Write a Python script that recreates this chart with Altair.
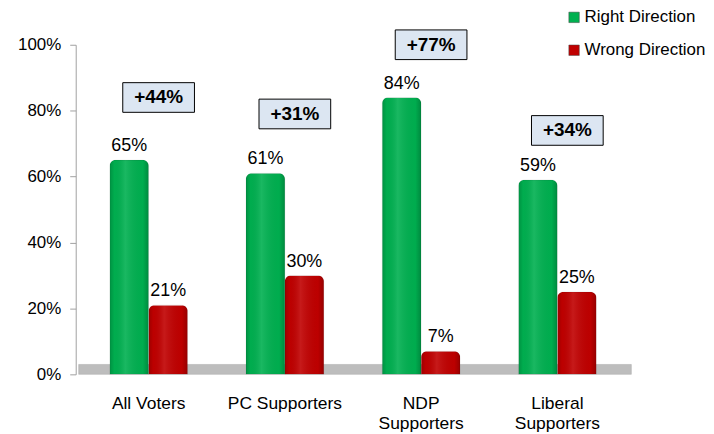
import altair as alt
import pandas as pd

categories = ["All Voters", "PC Supporters", "NDP Supporters", "Liberal Supporters"]
axis_lines = [["All Voters"], ["PC Supporters"], ["NDP", "Supporters"], ["Liberal", "Supporters"]]
series = ["Right Direction", "Wrong Direction"]
right_direction = [65, 61, 84, 59]
wrong_direction = [21, 30, 7, 25]
gap_labels = ["+44%", "+31%", "+77%", "+34%"]
gap_box_center = [84, 79, 100, 74]
colors = ["#00B050", "#C00000"]

rows = []
for c, r, w in zip(categories, right_direction, wrong_direction):
    rows.append({"category": c, "series": series[0], "value": r})
    rows.append({"category": c, "series": series[1], "value": w})
bars_df = pd.DataFrame(rows)
bars_df["label"] = bars_df["value"].astype(str) + "%"

gap_df = pd.DataFrame({
    "category": categories,
    "gap": gap_labels,
    "center": gap_box_center,
})
gap_df["lo"] = gap_df["center"] - 4.5
gap_df["hi"] = gap_df["center"] + 4.5

floor_df = pd.DataFrame({"lo": [0], "hi": [3]})

W, H = 546, 331

parts = []
for c, lines in zip(categories, axis_lines):
    arr = "[" + ",".join("'" + l + "'" for l in lines) + "]"
    parts.append(f"datum.label == '{c}' ? {arr} : ")
label_expr = "".join(parts) + "datum.label"

FONT = "Liberation Sans"
xscale = alt.Scale(domain=categories, range=[11, 546], paddingInner=0.428, paddingOuter=0.169)
yscale = alt.Scale(domain=[0, 100], nice=False)

x_enc = alt.X("category:N", scale=xscale, sort=categories,
              axis=alt.Axis(title=None, labelAngle=0, labelExpr=label_expr, domain=False,
                            ticks=False, labelFontSize=17.5, labelColor="#000000",
                            labelPadding=20, labelLineHeight=20, labelFont=FONT))

floor = alt.Chart(floor_df).mark_rect(color="#BDBDBD", stroke="#A8A8A8", strokeWidth=0.5).encode(
    x=alt.value(3), x2=alt.value(W + 12),
    y=alt.Y("lo:Q", scale=yscale,
            axis=alt.Axis(title=None, values=[0, 20, 40, 60, 80, 100],
                          labelExpr="datum.value + '%'", grid=False,
                          domainColor="#A0A0A0", tickColor="#A0A0A0", tickSize=6,
                          labelFontSize=17, labelColor="#000000", labelPadding=9,
                          labelFont=FONT)),
    y2="hi:Q",
)

bars = alt.Chart(bars_df).mark_bar(cornerRadiusTopLeft=6, cornerRadiusTopRight=6,
                                   stroke="#00000022", strokeWidth=0.5).encode(
    x=x_enc,
    xOffset=alt.XOffset("series:N", sort=series),
    y=alt.Y("value:Q", scale=yscale),
    color=alt.Color("series:N", sort=series,
                    scale=alt.Scale(domain=series, range=colors),
                    legend=alt.Legend(title=None, orient="none", legendX=492, legendY=-36,
                                      symbolType="square", symbolSize=110, padding=0,
                                      symbolStrokeColor="#444", symbolStrokeWidth=0.5,
                                      labelFontSize=17, labelFont=FONT,
                                      labelColor="#000000", rowPadding=15, labelOffset=2)),
)

shade = alt.Chart(bars_df).mark_bar(
    cornerRadiusTopLeft=6, cornerRadiusTopRight=6,
    fill=alt.Gradient(
        gradient="linear", x1=0, x2=1, y1=0, y2=0,
        stops=[
            alt.GradientStop(offset=0, color="rgba(0,0,0,0.18)"),
            alt.GradientStop(offset=0.12, color="rgba(0,0,0,0.02)"),
            alt.GradientStop(offset=0.4, color="rgba(255,255,255,0.10)"),
            alt.GradientStop(offset=0.85, color="rgba(0,0,0,0.02)"),
            alt.GradientStop(offset=1, color="rgba(0,0,0,0.22)"),
        ],
    ),
).encode(
    x=alt.X("category:N", scale=xscale, sort=categories),
    xOffset=alt.XOffset("series:N", sort=series),
    y=alt.Y("value:Q", scale=yscale),
)

labels = alt.Chart(bars_df).mark_text(baseline="bottom", dy=-5, fontSize=18,
                                      font=FONT, color="#000000").encode(
    x=alt.X("category:N", scale=xscale, sort=categories),
    xOffset=alt.XOffset("series:N", sort=series),
    y=alt.Y("value:Q", scale=yscale),
    text="label:N",
)

boxes = alt.Chart(gap_df).mark_bar(width=72, xOffset=10, fill="#DCE6F2",
                                   stroke="#000000", strokeWidth=1).encode(
    x=alt.X("category:N", scale=xscale, sort=categories),
    y=alt.Y("lo:Q", scale=yscale),
    y2="hi:Q",
)

box_text = alt.Chart(gap_df).mark_text(dx=10, fontSize=19, fontWeight="bold",
                                       font=FONT, color="#000000").encode(
    x=alt.X("category:N", scale=xscale, sort=categories),
    y=alt.Y("center:Q", scale=yscale),
    text="gap:N",
)

chart = alt.layer(floor, bars, shade, labels, boxes, box_text).properties(
    width=W, height=H, padding={"left": 9, "top": 0, "right": 0, "bottom": 0},
).configure(background="#FFFFFF").configure_view(stroke=None)

chart.save("out.html", embed_options={"renderer": "svg", "actions": False})
